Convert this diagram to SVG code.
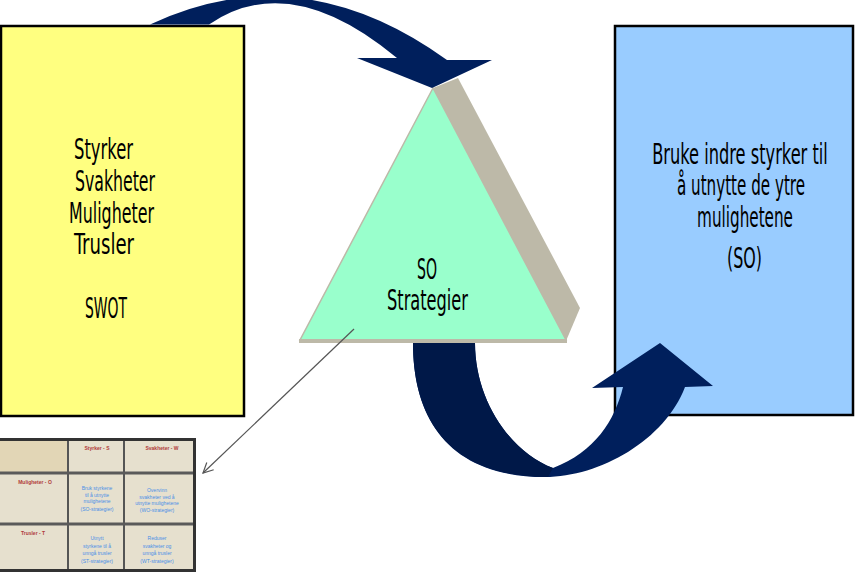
<svg xmlns="http://www.w3.org/2000/svg" width="866" height="579" viewBox="0 0 866 579">
<style>
.lbl{font-family:"Liberation Sans Narrow","DejaVu Sans Condensed","Liberation Sans",sans-serif;font-size:28px;fill:#000;}
.mid{text-anchor:middle;}
.red{font-family:"Liberation Sans","DejaVu Sans",sans-serif;font-size:5px;fill:#b03a3a;text-anchor:middle;font-weight:bold;}
.blue{font-family:"Liberation Sans","DejaVu Sans",sans-serif;font-size:5px;fill:#4a8fe6;text-anchor:middle;}
.navy{fill:#001f5c;}
.box{stroke:#000;stroke-width:2.5;}
.grid{stroke:#555;stroke-width:2;}
</style>
<defs>
<marker id="open" viewBox="0 0 12 12" refX="11" refY="6" markerWidth="12" markerHeight="12" markerUnits="userSpaceOnUse" orient="auto">
<path d="M1,1 L11,6 L1,11" fill="none" stroke="#555" stroke-width="1.2"/>
</marker>
</defs>
<rect width="866" height="579" fill="#fff"/>

<g id="swot-box">
<rect class="box" x="1" y="26" width="243" height="390" fill="#ffff80"/>
<text class="lbl" x="74" y="159" textLength="59" lengthAdjust="spacingAndGlyphs">Styrker</text>
<text class="lbl" x="75" y="191" textLength="80" lengthAdjust="spacingAndGlyphs">Svakheter</text>
<text class="lbl" x="69" y="223" textLength="85" lengthAdjust="spacingAndGlyphs">Muligheter</text>
<text class="lbl" x="74" y="254" textLength="60" lengthAdjust="spacingAndGlyphs">Trusler</text>
<text class="lbl" x="85" y="318" textLength="42" lengthAdjust="spacingAndGlyphs">SWOT</text>
</g>

<g id="so-box">
<rect class="box" x="615" y="26" width="238" height="389" fill="#99ccff"/>
<g transform="translate(740,0) scale(0.7,1)">
<text class="lbl mid" x="0" y="164" textLength="251" lengthAdjust="spacingAndGlyphs">Bruke indre styrker til</text>
</g>
<g transform="translate(741,0) scale(0.7,1)">
<text class="lbl mid" x="0" y="195" textLength="183" lengthAdjust="spacingAndGlyphs">å utnytte de ytre</text>
</g>
<g transform="translate(745,0) scale(0.7,1)">
<text class="lbl mid" x="0" y="227" textLength="137" lengthAdjust="spacingAndGlyphs">mulighetene</text>
</g>
<g transform="translate(744.5,0) scale(0.7,1)">
<text class="lbl mid" x="0" y="268" textLength="50" lengthAdjust="spacingAndGlyphs">(SO)</text>
</g>
</g>

<g id="triangle">
<polygon points="433,88 458,78 580,308 566,341" fill="#bdb9a8"/>
<polygon points="433,88 300,340 566,340" fill="#99ffcc" stroke="#bdb9a8" stroke-width="1.5"/>
<line x1="299" y1="341" x2="567" y2="341" stroke="#bdb9a8" stroke-width="4"/>
<text class="lbl mid" x="427" y="279" textLength="20" lengthAdjust="spacingAndGlyphs">SO</text>
<text class="lbl mid" x="427.5" y="310" textLength="81" lengthAdjust="spacingAndGlyphs">Strategier</text>
</g>

<g id="connectors">
<g id="arrow-top">
<path class="navy" d="M150,24.5 Q300,-46 447,60 L492,60 L432,88 L357,58 L397,58 Q290,-31 209,24.5 Z"/>
</g>
<g id="arrow-bottom">
<path class="navy" d="M413,343 C413,420 450,477 545,477 C600,477 665,440 685,387 L713,386 L660,343 L592,388 L623,387 C615,420 595,452 553,468 C510,452 475,400 475,343 Z"/>
<path fill="#001848" d="M413,343 C413,420 450,477 548,477 L553,468 C510,452 475,400 475,343 Z"/>
</g>
<g id="pointer">
<line x1="354" y1="329" x2="203" y2="473" stroke="#555" stroke-width="1.2" marker-end="url(#open)"/>
</g>
</g>

<g id="swot-table">
<rect x="0" y="440" width="194" height="130" fill="#e6e0ce"/>
<rect x="0" y="441" width="68" height="32" fill="#e2d6b6"/>
<line class="grid" x1="68" y1="440" x2="68" y2="570"/>
<line class="grid" x1="124" y1="440" x2="124" y2="570"/>
<line x1="0" y1="473" x2="194" y2="473" stroke="#5a5a5a" stroke-width="3"/>
<line x1="0" y1="524" x2="194" y2="524" stroke="#5a5a5a" stroke-width="3"/>
<line x1="0" y1="439.5" x2="196" y2="439.5" stroke="#333" stroke-width="3"/>
<line x1="194.5" y1="438" x2="194.5" y2="572" stroke="#333" stroke-width="3"/>
<line x1="0" y1="570.5" x2="196" y2="570.5" stroke="#333" stroke-width="3"/>
<text class="red" x="97" y="450">Styrker - S</text>
<text class="red" x="162" y="450">Svakheter - W</text>
<text class="red" x="35" y="484">Muligheter - O</text>
<text class="red" x="33" y="535">Trusler - T</text>
<text class="blue" x="97" y="490">Bruk styrkene</text>
<text class="blue" x="97" y="497">til å utnytte</text>
<text class="blue" x="97" y="503">mulighetene</text>
<text class="blue" x="97" y="511">(SO-strategier)</text>
<text class="blue" x="157" y="492">Overvinn</text>
<text class="blue" x="157" y="499">svakheter ved å</text>
<text class="blue" x="157" y="505">utnytte mulighetene</text>
<text class="blue" x="157" y="512">(WO-strategier)</text>
<text class="blue" x="97" y="540">Utnytt</text>
<text class="blue" x="97" y="548">styrkene til å</text>
<text class="blue" x="97" y="555">unngå trusler</text>
<text class="blue" x="97" y="563">(ST-strategier)</text>
<text class="blue" x="157" y="540">Reduser</text>
<text class="blue" x="157" y="548">svakheter og</text>
<text class="blue" x="157" y="555">unngå trusler</text>
<text class="blue" x="157" y="563">(WT-strategier)</text>
</g>
</svg>
